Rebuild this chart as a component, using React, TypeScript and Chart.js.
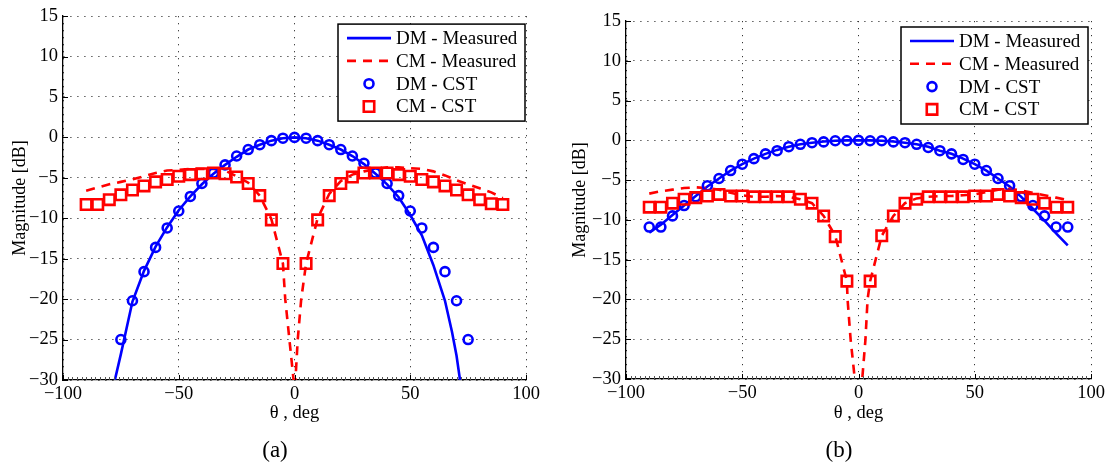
import React, { useEffect, useRef } from 'react';
import { Chart, registerables } from 'chart.js';

Chart.register(...registerables);

const FONT = '"Liberation Serif", "Times New Roman", serif';

// ---------- shared ----------
const legendLabels = ['DM - Measured', 'CM - Measured', 'DM - CST', 'CM - CST'];
const xTickValues = [-100, -50, 0, 50, 100];
const yTickValues = [-30, -25, -20, -15, -10, -5, 0, 5, 10, 15];
const xAxisTitle = 'θ , deg';
const yAxisTitle = 'Magnitude [dB]';

// ---------- panel (a) ----------
const aDmMeasAngle = [-78, -75, -70, -65, -60, -55, -50, -45, -40, -35, -30, -25, -20, -15, -10, -5, 0, 5, 10, 15, 20, 25, 30, 35, 40, 45, 50, 55, 60, 65, 68, 70, 72];
const aDmMeasValue = [-30.5, -26.8, -20.3, -16.5, -13.5, -11.1, -9.0, -7.3, -5.8, -4.5, -3.4, -2.4, -1.5, -0.9, -0.4, -0.1, 0, -0.1, -0.4, -0.9, -1.5, -2.3, -3.3, -4.5, -5.8, -7.4, -9.6, -12.1, -15.8, -20.2, -24.0, -27.0, -31.0];

const aCmMeasAngle = [-90, -85, -80, -75, -70, -65, -60, -55, -50, -45, -40, -35, -30, -25, -20, -15, -10, -5, -4, -2.2, -0.4, 0, 0.4, 1.4, 2.9, 5, 10, 15, 20, 25, 30, 35, 40, 45, 50, 55, 60, 65, 70, 75, 80, 85, 90];
const aCmMeasValue = [-6.6, -6.2, -5.8, -5.5, -5.2, -4.8, -4.4, -4.1, -4.0, -3.9, -3.9, -3.9, -4.1, -4.8, -5.6, -7.2, -10.1, -15.6, -20, -25, -30, -36, -30, -25, -20, -15.6, -10.0, -7.0, -5.4, -4.6, -4.2, -3.9, -3.7, -3.7, -3.8, -3.9, -4.2, -4.7, -5.3, -5.8, -6.3, -6.8, -7.5];

const aDmCstAngle = [-75, -70, -65, -60, -55, -50, -45, -40, -35, -30, -25, -20, -15, -10, -5, 0, 5, 10, 15, 20, 25, 30, 35, 40, 45, 50, 55, 60, 65, 70, 75];
const aDmCstValue = [-25, -20.2, -16.6, -13.6, -11.2, -9.1, -7.3, -5.7, -4.4, -3.4, -2.3, -1.5, -0.9, -0.4, -0.1, 0, -0.1, -0.4, -0.9, -1.5, -2.3, -3.2, -4.4, -5.7, -7.2, -9.1, -11.2, -13.6, -16.6, -20.2, -25];

const aCmCstAngle = [-90, -85, -80, -75, -70, -65, -60, -55, -50, -45, -40, -35, -30, -25, -20, -15, -10, -5, 5, 10, 15, 20, 25, 30, 35, 40, 45, 50, 55, 60, 65, 70, 75, 80, 85, 90];
const aCmCstValue = [-8.3, -8.3, -7.7, -7.1, -6.5, -6.0, -5.5, -5.2, -4.8, -4.6, -4.5, -4.4, -4.5, -4.9, -5.7, -7.2, -10.2, -15.6, -15.6, -10.2, -7.2, -5.7, -4.9, -4.4, -4.4, -4.4, -4.6, -4.8, -5.2, -5.5, -6.0, -6.5, -7.1, -7.7, -8.2, -8.3];

// ---------- panel (b) ----------
const bDmMeasAngle = [-90, -85, -80, -75, -70, -65, -60, -55, -50, -45, -40, -35, -30, -25, -20, -15, -10, -5, 0, 5, 10, 15, 20, 25, 30, 35, 40, 45, 50, 55, 60, 65, 70, 75, 80, 85, 90];
const bDmMeasValue = [-11.6, -10.6, -9.4, -8.2, -7.0, -5.8, -4.8, -3.8, -3.0, -2.3, -1.7, -1.2, -0.8, -0.5, -0.3, -0.15, -0.05, 0, 0, 0, -0.05, -0.15, -0.3, -0.5, -0.8, -1.3, -1.7, -2.3, -3.0, -3.8, -4.8, -5.8, -7.1, -8.6, -10.1, -11.7, -13.2];

const bCmMeasAngle = [-90, -85, -80, -75, -70, -65, -60, -55, -50, -45, -40, -35, -30, -25, -20, -15, -10, -5, -4.7, -3.4, -1.6, 0, 1.6, 3, 3.9, 5, 10, 15, 20, 25, 30, 35, 40, 45, 50, 55, 60, 65, 70, 75, 80, 85, 90];
const bCmMeasValue = [-6.7, -6.4, -6.2, -6.0, -5.9, -6.0, -6.2, -6.6, -6.9, -7.1, -7.1, -7.0, -7.1, -7.4, -7.9, -9.5, -12.0, -17.7, -20, -25, -30, -37, -30, -25, -20, -17.7, -12.0, -9.5, -7.9, -7.3, -7.1, -7.0, -7.0, -6.9, -6.8, -6.5, -6.2, -6.1, -6.3, -6.6, -6.9, -7.2, -7.5];

const bDmCstAngle = [-90, -85, -80, -75, -70, -65, -60, -55, -50, -45, -40, -35, -30, -25, -20, -15, -10, -5, 0, 5, 10, 15, 20, 25, 30, 35, 40, 45, 50, 55, 60, 65, 70, 75, 80, 85, 90];
const bDmCstValue = [-10.9, -10.9, -9.5, -8.2, -7.1, -5.7, -4.8, -3.8, -3.0, -2.3, -1.7, -1.3, -0.8, -0.5, -0.3, -0.2, -0.05, -0.05, 0, -0.05, -0.05, -0.2, -0.3, -0.5, -0.9, -1.3, -1.7, -2.4, -3.0, -3.8, -4.8, -5.7, -7.1, -8.2, -9.5, -10.9, -10.9];

const bCmCstAngle = [-90, -85, -80, -75, -70, -65, -60, -55, -50, -45, -40, -35, -30, -25, -20, -15, -10, -5, 5, 10, 15, 20, 25, 30, 35, 40, 45, 50, 55, 60, 65, 70, 75, 80, 85, 90];
const bCmCstValue = [-8.4, -8.4, -7.9, -7.4, -7.2, -7.0, -6.8, -7.0, -7.0, -7.1, -7.1, -7.1, -7.1, -7.4, -7.9, -9.5, -12.1, -17.7, -17.7, -12.0, -9.5, -7.9, -7.4, -7.1, -7.1, -7.1, -7.1, -7.0, -7.0, -6.8, -7.0, -7.2, -7.4, -7.9, -8.4, -8.4];

const BLUE = '#0000ff';
const RED = '#ff0000';

const toPoints = (xs: number[], ys: number[]) => xs.map((x, i) => ({ x, y: ys[i] }));
const fmt = (v: number) => String(v).replace('-', '\u2212');

// legend drawn inside the plot, MATLAB style
const boxLegend = {
  id: 'boxLegend',
  afterDraw(chart: any, _args: any, opts: any) {
    const { ctx, chartArea } = chart;
    const w = 187;
    const h = 97;
    const x0 = chartArea.right - opts.right - w;
    const y0 = chartArea.top + opts.top;
    ctx.save();
    ctx.fillStyle = '#ffffff';
    ctx.fillRect(x0, y0, w, h);
    ctx.strokeStyle = '#000000';
    ctx.lineWidth = 1.5;
    ctx.strokeRect(x0, y0, w, h);
    ctx.font = `19px ${FONT}`;
    ctx.textBaseline = 'middle';
    ctx.textAlign = 'left';
    chart.data.datasets.forEach((ds: any, i: number) => {
      const cy = y0 + 14 + i * 22.8;
      ctx.save();
      if (ds.showLine !== false) {
        ctx.strokeStyle = ds.borderColor;
        ctx.lineWidth = ds.borderWidth;
        ctx.setLineDash(ds.borderDash || []);
        ctx.beginPath();
        ctx.moveTo(x0 + 9, cy);
        ctx.lineTo(x0 + 53, cy);
        ctx.stroke();
      } else {
        ctx.strokeStyle = ds.borderColor;
        ctx.lineWidth = ds.borderWidth;
        const cx = x0 + 31;
        ctx.beginPath();
        if (ds.pointStyle === 'circle') {
          ctx.arc(cx, cy, ds.pointRadius, 0, Math.PI * 2);
        } else {
          const s = ds.pointRadius * Math.SQRT1_2;
          ctx.rect(cx - s, cy - s, 2 * s, 2 * s);
        }
        ctx.stroke();
      }
      ctx.restore();
      ctx.fillStyle = '#000000';
      ctx.fillText(ds.label, x0 + 58, cy + 1);
    });
    ctx.restore();
  },
};

// inward major and minor ticks on the left / bottom axes
const axisTicks = {
  id: 'axisTicks',
  afterDatasetsDraw(chart: any) {
    const { ctx, chartArea, scales } = chart;
    const xs = scales.x;
    const ys = scales.y;
    ctx.save();
    ctx.strokeStyle = '#555555';
    ctx.lineWidth = 1;
    ctx.beginPath();
    for (let v = -100; v <= 100; v += 2) {
      const px = Math.round(xs.getPixelForValue(v)) + 0.5;
      ctx.moveTo(px, chartArea.bottom);
      ctx.lineTo(px, chartArea.bottom - 3);
    }
    ctx.stroke();
    ctx.strokeStyle = '#000000';
    ctx.beginPath();
    xTickValues.forEach((v) => {
      const px = Math.round(xs.getPixelForValue(v)) + 0.5;
      ctx.moveTo(px, chartArea.bottom);
      ctx.lineTo(px, chartArea.bottom - 5);
    });
    yTickValues.forEach((v) => {
      const py = Math.round(ys.getPixelForValue(v)) + 0.5;
      ctx.moveTo(chartArea.left, py);
      ctx.lineTo(chartArea.left + 5, py);
    });
    ctx.stroke();
    ctx.restore();
  },
};

type Panel = {
  dmMeas: [number[], number[]];
  cmMeas: [number[], number[]];
  dmCst: [number[], number[]];
  cmCst: [number[], number[]];
  padTop: number;
  padRight: number;
  yWidth: number;
  xHeight: number;
  yTitlePad: number;
  legendTop: number;
  legendRight: number;
};

function makeChart(canvas: HTMLCanvasElement, p: Panel) {
  return new Chart(canvas, {
    type: 'line',
    data: {
      datasets: [
        {
          label: legendLabels[0],
          data: toPoints(p.dmMeas[0], p.dmMeas[1]),
          borderColor: BLUE,
          borderWidth: 2.6,
          pointRadius: 0,
          fill: false,
          order: 4,
        },
        {
          label: legendLabels[1],
          data: toPoints(p.cmMeas[0], p.cmMeas[1]),
          borderColor: RED,
          borderWidth: 2.6,
          borderDash: [9, 7],
          pointRadius: 0,
          fill: false,
          order: 3,
        },
        {
          label: legendLabels[2],
          data: toPoints(p.dmCst[0], p.dmCst[1]),
          showLine: false,
          borderColor: BLUE,
          backgroundColor: 'rgba(0,0,0,0)',
          borderWidth: 2.6,
          pointStyle: 'circle',
          pointRadius: 4.5,
          order: 2,
        },
        {
          label: legendLabels[3],
          data: toPoints(p.cmCst[0], p.cmCst[1]),
          showLine: false,
          borderColor: RED,
          backgroundColor: 'rgba(0,0,0,0)',
          borderWidth: 2.6,
          pointStyle: 'rect',
          pointRadius: 7.4,
          order: 1,
        },
      ] as any,
    },
    options: {
      animation: false,
      responsive: false,
      events: [],
      layout: { padding: { top: p.padTop, right: p.padRight, left: 0, bottom: 0 } },
      plugins: {
        legend: { display: false },
        tooltip: { enabled: false },
        boxLegend: { top: p.legendTop, right: p.legendRight },
      } as any,
      scales: {
        x: {
          type: 'linear',
          min: -100,
          max: 100,
          afterBuildTicks: (s: any) => {
            s.ticks = xTickValues.map((v) => ({ value: v }));
          },
          afterFit: (s: any) => {
            s.height = p.xHeight;
          },
          ticks: {
            color: '#000',
            font: { family: FONT, size: 18.5 },
            padding: 3,
            maxRotation: 0,
            callback: (v: any) => fmt(Number(v)),
          },
          grid: { color: '#333333', lineWidth: 1, drawTicks: false },
          border: { display: true, color: '#000000', width: 1.3, dash: [1.2, 5.8] },
          title: {
            display: true,
            text: xAxisTitle,
            color: '#000',
            font: { family: FONT, size: 18.5 },
            padding: { top: 0, bottom: 43 },
          },
        },
        y: {
          type: 'linear',
          min: -30,
          max: 15,
          afterBuildTicks: (s: any) => {
            s.ticks = yTickValues.map((v) => ({ value: v }));
          },
          afterFit: (s: any) => {
            s.width = p.yWidth;
          },
          ticks: {
            color: '#000',
            font: { family: FONT, size: 18.5 },
            padding: 5,
            callback: (v: any) => fmt(Number(v)),
          },
          grid: { color: '#333333', lineWidth: 1, drawTicks: false },
          border: { display: true, color: '#000000', width: 1.3, dash: [1.2, 5.8] },
          title: {
            display: true,
            text: yAxisTitle,
            color: '#000',
            font: { family: FONT, size: 18 },
            padding: { top: p.yTitlePad, bottom: 0 },
          },
        },
      },
    } as any,
    plugins: [axisTicks, boxLegend],
  });
}

const panelA: Panel = {
  dmMeas: [aDmMeasAngle, aDmMeasValue],
  cmMeas: [aCmMeasAngle, aCmMeasValue],
  dmCst: [aDmCstAngle, aDmCstValue],
  cmCst: [aCmCstAngle, aCmCstValue],
  padTop: 14,
  padRight: 30,
  yWidth: 63,
  xHeight: 87,
  yTitlePad: 9.2,
  legendTop: 8,
  legendRight: 1,
};

const panelB: Panel = {
  dmMeas: [bDmMeasAngle, bDmMeasValue],
  cmMeas: [bCmMeasAngle, bCmMeasValue],
  dmCst: [bDmCstAngle, bDmCstValue],
  cmCst: [bCmCstAngle, bCmCstValue],
  padTop: 21,
  padRight: 22,
  yWidth: 70,
  xHeight: 88,
  yTitlePad: 13.2,
  legendTop: 6,
  legendRight: 3,
};

function Panel({ panel, left, width }: { panel: Panel; left: number; width: number }) {
  const ref = useRef<HTMLCanvasElement | null>(null);
  useEffect(() => {
    if (!ref.current) return;
    const chart = makeChart(ref.current, panel);
    return () => chart.destroy();
  }, [panel]);
  return (
    <canvas
      ref={ref}
      width={width}
      height={467}
      style={{ position: 'absolute', left, top: 0, width, height: 467 }}
    />
  );
}

export default function App() {
  const capStyle: React.CSSProperties = {
    position: 'absolute',
    top: 436,
    width: 60,
    textAlign: 'center',
    fontFamily: FONT,
    fontSize: 23,
    lineHeight: '28px',
    color: '#000',
  };
  return (
    <div
      style={{
        position: 'fixed',
        left: 0,
        top: 0,
        width: 1113,
        height: 467,
        background: '#ffffff',
        overflow: 'hidden',
      }}
    >
      <Panel panel={panelA} left={0} width={556} />
      <Panel panel={panelB} left={556} width={557} />
      <div style={{ ...capStyle, left: 275 - 30 }}>(a)</div>
      <div style={{ ...capStyle, left: 839 - 30 }}>(b)</div>
    </div>
  );
}
